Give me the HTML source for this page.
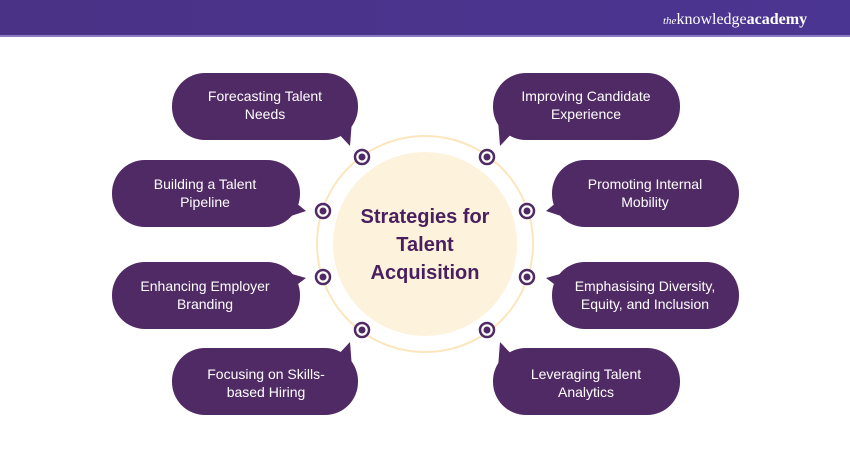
<!DOCTYPE html>
<html><head><meta charset="utf-8"><style>
body{margin:0;width:850px;height:450px;overflow:hidden;background:#fff;font-family:"Liberation Sans",sans-serif}
</style></head><body>
<svg width="850" height="450" viewBox="0 0 850 450" xmlns="http://www.w3.org/2000/svg">
<defs><linearGradient id="g" x1="0" x2="1"><stop offset="0" stop-color="#4a3286"/><stop offset="1" stop-color="#4b3592"/></linearGradient></defs>
<rect x="0" y="0" width="850" height="36" fill="url(#g)"/>
<rect x="0" y="35" width="850" height="2" fill="#8a7cc0"/>
<text x="663" y="24" font-family="Liberation Serif,serif" font-size="16" fill="#fff"><tspan font-style="italic" font-size="11">the</tspan>knowledge<tspan font-weight="bold">academy</tspan></text>
<circle cx="425" cy="244" r="108" fill="none" stroke="#fbe6bd" stroke-width="2"/>
<circle cx="425" cy="244" r="92" fill="#fdf2db"/>
<g font-weight="bold" font-size="20" fill="#4a1f5e" text-anchor="middle">
<text x="425" y="223">Strategies for</text><text x="425" y="251">Talent</text><text x="425" y="279">Acquisition</text></g>
<g fill="#502a64">
<rect x="172" y="73" width="186" height="67" rx="33"/><path d="M335 130 L350 146 L352 120Z"/>
<rect x="112" y="160" width="188" height="67" rx="33"/><path d="M290 198 L306 211 L285 218Z"/>
<rect x="112" y="262" width="188" height="67" rx="33"/><path d="M290 290 L306 278 L285 272Z"/>
<rect x="172" y="348" width="186" height="67" rx="33"/><path d="M335 358 L350 342 L352 368Z"/>
<rect x="493" y="73" width="187" height="67" rx="33"/><path d="M515 130 L500 146 L498 120Z"/>
<rect x="552" y="160" width="187" height="67" rx="33"/><path d="M562 198 L546 211 L567 218Z"/>
<rect x="552" y="262" width="187" height="67" rx="33"/><path d="M562 290 L546 278 L567 272Z"/>
<rect x="493" y="348" width="187" height="67" rx="33"/><path d="M515 358 L500 342 L498 368Z"/>
</g>
<g fill="#fff" stroke="#502a64" stroke-width="2.5">
<circle cx="362" cy="157" r="7"/><circle cx="323" cy="211" r="7"/><circle cx="323" cy="277" r="7"/><circle cx="362" cy="330" r="7"/>
<circle cx="487" cy="157" r="7"/><circle cx="527" cy="211" r="7"/><circle cx="527" cy="277" r="7"/><circle cx="487" cy="330" r="7"/>
</g>
<g fill="#502a64">
<circle cx="362" cy="157" r="3.5"/><circle cx="323" cy="211" r="3.5"/><circle cx="323" cy="277" r="3.5"/><circle cx="362" cy="330" r="3.5"/>
<circle cx="487" cy="157" r="3.5"/><circle cx="527" cy="211" r="3.5"/><circle cx="527" cy="277" r="3.5"/><circle cx="487" cy="330" r="3.5"/>
</g>
<g fill="#fff" font-size="14" text-anchor="middle">
<text x="265" y="101">Forecasting Talent</text><text x="265" y="119">Needs</text>
<text x="205" y="189">Building a Talent</text><text x="205" y="207">Pipeline</text>
<text x="205" y="291">Enhancing Employer</text><text x="205" y="309">Branding</text>
<text x="266" y="379">Focusing on Skills-</text><text x="266" y="397">based Hiring</text>
<text x="586" y="101">Improving Candidate</text><text x="586" y="119">Experience</text>
<text x="645" y="189">Promoting Internal</text><text x="645" y="207">Mobility</text>
<text x="645" y="291">Emphasising Diversity,</text><text x="645" y="309">Equity, and Inclusion</text>
<text x="586" y="379">Leveraging Talent</text><text x="586" y="397">Analytics</text>
</g>
</svg>
</body></html>
